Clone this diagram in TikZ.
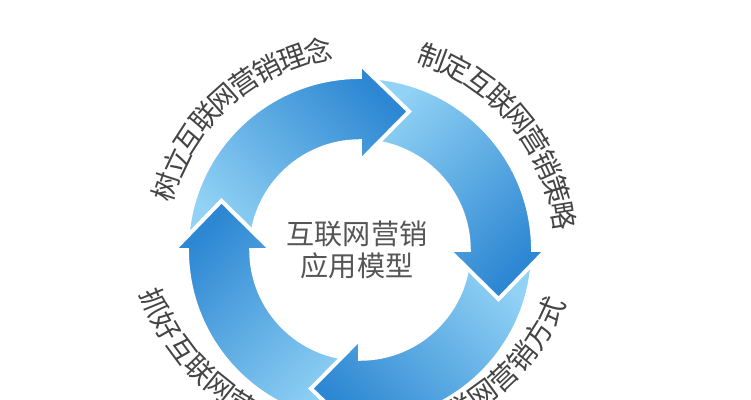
\documentclass[tikz,border=0pt]{standalone}
\usepackage{fontspec}
\newfontfamily\cjk{Noto Sans CJK SC}
\definecolor{arrowlight}{RGB}{145,210,245}
\definecolor{arrowdark}{RGB}{45,135,210}
\definecolor{labelgray}{RGB}{68,68,68}
\definecolor{titlegray}{RGB}{85,85,85}

\tikzset{
  ringarrow/.style={draw=white, line width=2.8pt, line join=miter,
    top color=arrowdark, bottom color=arrowlight, shading angle=#1},
  arclabel/.style={font=\cjk\fontsize{20}{20}\selectfont, text=labelgray, inner sep=0pt},
  titlelabel/.style={font=\cjk\fontsize{20}{22.7}\selectfont, text=titlegray, align=center},
}

\begin{document}
\begin{tikzpicture}
\useasboundingbox (-9,-3.75) rectangle (9.775,6.25);
\clip (-9,-3.75) rectangle (9.775,6.25);

% Ring arrows (head base at \a)
\foreach \a in {90,0,-90,180}
  \shade[ringarrow=\a-135] ({\a+90}:4.325) arc[start angle={\a+90}, end angle=\a, radius=4.325]
    -- (\a:4.65) -- ({\a-19.5}:3.675) -- (\a:2.22) -- (\a:2.72)
    arc[start angle=\a, end angle={\a+90}, radius=2.72] -- cycle;

% Heads again, over the next tail
\foreach \a in {90,0,-90,180} {
  \begin{scope}
    \clip (0,0) -- ({\a+3}:6) -- ({\a-25}:6) -- cycle;
    \shade[ringarrow=\a-135] ({\a+90}:4.325) arc[start angle={\a+90}, end angle=\a, radius=4.325]
      -- (\a:4.65) -- ({\a-19.5}:3.675) -- (\a:2.22) -- (\a:2.72)
      arc[start angle=\a, end angle={\a+90}, radius=2.72] -- cycle;
  \end{scope}
}

% Centre
\node[titlelabel] (title) at (-0.075,0) {互联网营销\\应用模型};

% Labels round the ring
\foreach \c [count=\i] in {树,立,互,联,网,营,销,理,念}
  \node[arclabel, rotate={72-7.5*(\i-1)}] (idea\i) at ({162-7.5*(\i-1)}:5.1) {\c};
\foreach \c [count=\i] in {制,定,互,联,网,营,销,策,略}
  \node[arclabel, rotate={-20.5-7.5*(\i-1)}] (plan\i) at ({69.5-7.5*(\i-1)}:5.15) {\c};
\begin{scope}[shift={(-0.125,0.75)}]
\foreach \c [count=\i] in {联,网,营,销,方,式}
  \node[arclabel, rotate={29.1+7.2*(\i-1)}] (way\i) at ({-60.9+7.2*(\i-1)}:5.4) {\c};
\foreach \c [count=\i] in {抓,好,互,联,网,营}
  \node[arclabel, rotate={292.3+7.2*(\i-1)}] (grip\i) at ({202.3+7.2*(\i-1)}:5.4) {\c};
\end{scope}

\end{tikzpicture}
\end{document}
